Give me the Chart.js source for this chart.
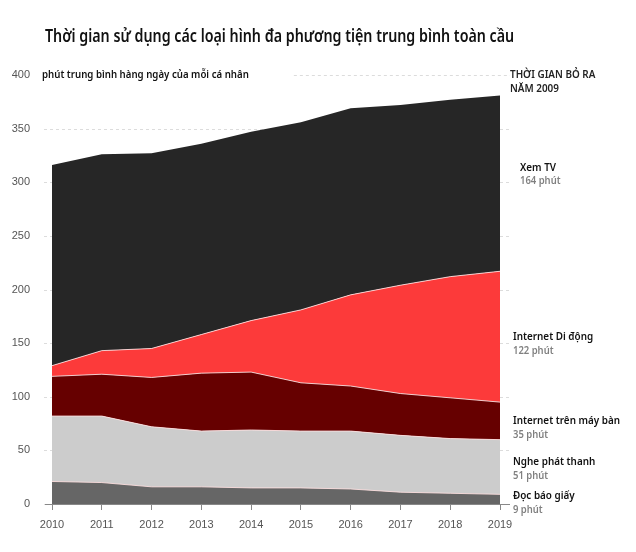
<!DOCTYPE html>
<html>
<head>
<meta charset="utf-8">
<script src="https://cdn.jsdelivr.net/npm/chart.js@4.4.1/dist/chart.umd.min.js"></script>
<style>
    html, body { margin: 0; padding: 0; background: #fff; }
    #wrap { position: relative; width: 636px; height: 552px; }
</style>
</head>
<body>
<div id="wrap"><canvas id="mediaChart"></canvas></div>
<script>
// Data (minutes per day, stacked bottom to top)
const years = ['2010', '2011', '2012', '2013', '2014', '2015', '2016', '2017', '2018', '2019'];
const printMinutes   = [21, 20, 16, 16, 15, 15, 14, 11, 10, 9];
const radioMinutes   = [61, 62, 56, 52, 54, 53, 54, 53, 51, 51];
const desktopMinutes = [37, 39, 46, 54, 54, 45, 42, 39, 38, 35];
const mobileMinutes  = [10, 22, 27, 36, 48, 68, 85, 101, 113, 122];
const tvMinutes      = [187, 183, 182, 178, 176, 175, 174, 168, 165, 164];
const yTicks = [0, 50, 100, 150, 200, 250, 300, 350, 400];

const seriesNames  = ['Đọc báo giấy', 'Nghe phát thanh', 'Internet trên máy bàn', 'Internet Di động', 'Xem TV'];
const seriesColors = ['#666666', '#cccccc', '#660000', '#fc3a3a', '#262626'];

const chartTitle = 'Thời gian sử dụng các loại hình đa phương tiện trung bình toàn cầu';
const yAxisTitle = 'phút trung bình hàng ngày của mỗi cá nhân';
const sideHeader = ['THỜI GIAN BỎ RA', 'NĂM 2009'];
const unit = 'phút';

const labelFont = '"Noto Sans", "Open Sans", sans-serif';
const tickFont = '"Liberation Sans", Arial, sans-serif';
const squeeze = 0.86; // the original uses a narrow humanist face

// text drawn a bit condensed, returns the drawn width
function drawText(ctx, text, x, y, font, color, sx) {
    const k = sx || squeeze;
    ctx.save();
    ctx.font = font;
    ctx.fillStyle = color;
    ctx.textBaseline = 'middle';
    ctx.textAlign = 'left';
    ctx.translate(x, y);
    ctx.scale(k, 1);
    ctx.fillText(text, 0, 0);
    const w = ctx.measureText(text).width * k;
    ctx.restore();
    return w;
}

// custom drawing: dashed grid, baseline, title and the side labels
const annotations = {
    id: 'annotations',
    beforeDatasetsDraw(chart) {
        const ctx = chart.ctx;
        const area = chart.chartArea;
        const y = chart.scales.y;
        ctx.save();
        ctx.font = '600 11px ' + labelFont;
        const titleEnd = area.left - 10 + ctx.measureText(yAxisTitle).width * 0.88;
        ctx.strokeStyle = '#dcdcdc';
        ctx.lineWidth = 1;
        ctx.setLineDash([3, 3]);
        yTicks.forEach(v => {
            const py = Math.round(y.getPixelForValue(v)) + 0.5;
            const start = v === yTicks[yTicks.length - 1] ? titleEnd + 45 : area.left - 8;
            ctx.beginPath();
            ctx.moveTo(start, py);
            ctx.lineTo(area.right + 10, py);
            ctx.stroke();
        });
        ctx.restore();
    },
    afterDraw(chart) {
        const ctx = chart.ctx;
        const area = chart.chartArea;
        const y = chart.scales.y;
        ctx.save();

        // baseline of x axis
        ctx.strokeStyle = '#888';
        ctx.lineWidth = 1;
        const by = Math.round(y.getPixelForValue(0)) + 0.5;
        ctx.beginPath();
        ctx.moveTo(area.left - 7, by);
        ctx.lineTo(area.right + 10, by);
        ctx.stroke();
        ctx.restore();

        // title
        drawText(ctx, chartTitle, 45, 37, '600 17.5px ' + labelFont, '#111', 0.815);

        // y axis title next to the 400 tick
        drawText(ctx, yAxisTitle, area.left - 10, y.getPixelForValue(400), '600 11px ' + labelFont, '#111', 0.88);

        // header on the right
        const rx = area.right + 10;
        drawText(ctx, sideHeader[0], rx, y.getPixelForValue(400), '600 11.5px ' + labelFont, '#222');
        drawText(ctx, sideHeader[1], rx, y.getPixelForValue(400) + 14, '600 11.5px ' + labelFont, '#222');

        // series labels at the middle of each band in the last year
        const last = years.length - 1;
        const nudge = [-3, -5, 0, 0, -16];
        const indent = [0, 0, 0, 0, 7];
        let base = 0;
        chart.data.datasets.forEach((ds, i) => {
            const v = ds.data[last];
            const mid = y.getPixelForValue(base + v / 2) + nudge[i];
            base += v;
            drawText(ctx, seriesNames[i], rx + 3 + indent[i], mid, '600 11.5px ' + labelFont, '#111');
            drawText(ctx, v + ' ' + unit, rx + 3 + indent[i], mid + 14, '600 11px ' + labelFont, '#808080');
        });
    }
};

function makeDataset(i, values) {
    return {
        label: seriesNames[i],
        data: values,
        backgroundColor: seriesColors[i],
        borderColor: i === 4 ? seriesColors[i] : 'rgba(255, 225, 225, 0.85)',
        borderWidth: i === 4 ? 0 : 1,
        fill: i === 0 ? 'origin' : '-1',
        pointRadius: 0,
        tension: 0
    };
}

new Chart(document.getElementById('mediaChart'), {
    type: 'line',
    data: {
        labels: years,
        datasets: [
            makeDataset(0, printMinutes),
            makeDataset(1, radioMinutes),
            makeDataset(2, desktopMinutes),
            makeDataset(3, mobileMinutes),
            makeDataset(4, tvMinutes)
        ]
    },
    options: {
        responsive: true,
        maintainAspectRatio: false,
        animation: false,
        layout: {
            padding: { top: 75, right: 136, bottom: 0, left: 0 }
        },
        plugins: {
            legend: { display: false },
            tooltip: { enabled: false },
            filler: { propagate: false }
        },
        scales: {
            x: {
                offset: false,
                grid: { drawOnChartArea: false, drawTicks: true, tickLength: 6, color: '#888' },
                border: { display: false },
                ticks: { color: '#555', padding: 8, font: { family: tickFont, size: 11 }, maxRotation: 0 },
                afterFit(scale) { scale.height = 48; }
            },
            y: {
                stacked: true,
                min: 0,
                max: 400,
                grid: { display: false },
                border: { display: false },
                ticks: {
                    stepSize: 50,
                    color: '#555',
                    padding: 14,
                    font: { family: tickFont, size: 11 }
                },
                afterFit(scale) { scale.width = 52; }
            }
        }
    },
    plugins: [annotations]
});
</script>
</body>
</html>
